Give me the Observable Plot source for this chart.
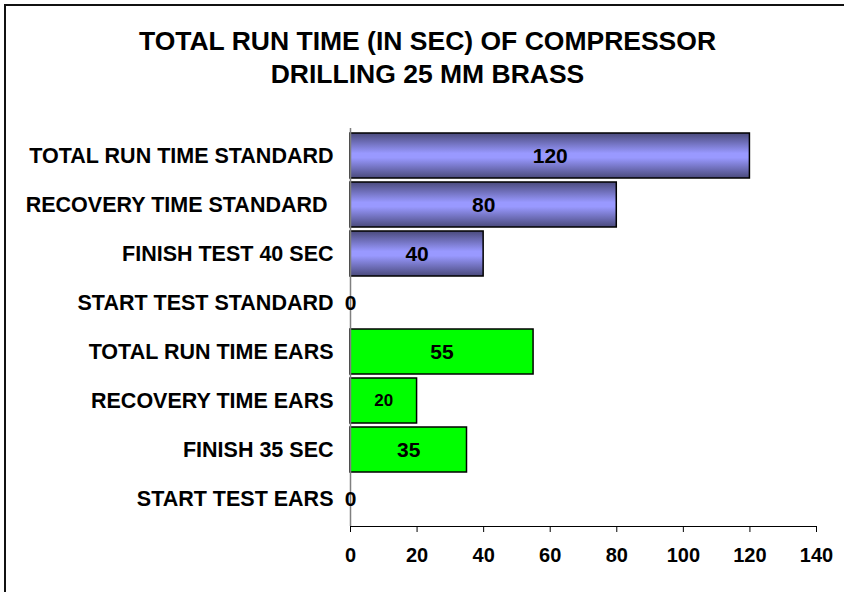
<!DOCTYPE html>
<html>
<head>
<meta charset="utf-8">
<script src="https://cdn.jsdelivr.net/npm/d3@7"></script>
<script src="https://cdn.jsdelivr.net/npm/@observablehq/plot@0.6"></script>
<style>
  html, body { margin: 0; padding: 0; background: #fff; overflow: hidden; }
  #wrap { position: relative; width: 844px; height: 592px; overflow: hidden; font-family: "Liberation Sans", Arial, sans-serif; }
  #frame { position: absolute; left: 4px; top: 4px; width: 1000px; height: 1000px; border-left: 2px solid #111; border-top: 2px solid #111; box-sizing: border-box; pointer-events: none; }
  #title { position: absolute; left: 0; width: 855px; top: 25px; text-align: center; font-weight: bold; font-size: 26.5px; line-height: 33px; color: #000; }
  #chart { position: absolute; left: 0; top: 0; }
</style>
</head>
<body>
<div id="wrap">
  <div id="chart"></div>
  <div id="title">TOTAL RUN TIME (IN SEC) OF COMPRESSOR<br>DRILLING 25 MM BRASS</div>
  <div id="frame"></div>
</div>
<script>
const categories = [
  "TOTAL RUN TIME STANDARD",
  "RECOVERY TIME STANDARD\u00a0",
  "FINISH TEST 40 SEC",
  "START TEST STANDARD",
  "TOTAL RUN TIME EARS",
  "RECOVERY TIME EARS",
  "FINISH 35 SEC",
  "START TEST EARS"
];
const values = [120, 80, 40, 0, 55, 20, 35, 0];
const groups = ["standard", "standard", "standard", "standard", "ears", "ears", "ears", "ears"];
const xTicks = [0, 20, 40, 60, 80, 100, 120, 140];

const data = categories.map((c, i) => ({ cat: c, value: values[i], group: groups[i] }));
const std = data.filter(d => d.group === "standard");
const ears = data.filter(d => d.group === "ears");

const font = "'Liberation Sans', Arial, sans-serif";

const svg = Plot.plot({
  width: 844,
  height: 592,
  marginLeft: 350,
  marginRight: 28,
  marginTop: 128,
  marginBottom: 66,
  style: { fontFamily: font, fontWeight: "bold", color: "#000", background: "transparent" },
  x: { domain: [0, 140], label: null },
  y: { domain: categories, padding: 0.08, label: null },
  marks: [
    Plot.barX(std.filter(d => d.value > 0), { x: "value", y: "cat", fill: "#9999ff", stroke: "#000", strokeWidth: 1.5, className: "blue-bars" }),
    Plot.barX(ears.filter(d => d.value > 0), { x: "value", y: "cat", fill: "#00ff00", stroke: "#000", strokeWidth: 1.5 }),
    Plot.ruleX([0], { stroke: "#808080", strokeWidth: 1.5 }),
    Plot.frame({ anchor: "bottom", stroke: "#000", strokeWidth: 1 }),
    Plot.axisX({ ticks: xTicks, tickSize: 6, tickPadding: 15, fontSize: 20, fontWeight: "bold", fill: "#000", stroke: "#000", label: null }),
    Plot.axisY({ tickSize: 0, tickPadding: 17, fontSize: 21.5, fontWeight: "bold", fill: "#000", label: null }),
    Plot.text(data, {
      x: d => d.value / 2, y: "cat", text: d => String(d.value),
      fontSize: d => (d.value > 0 && d.value < 30 ? 17 : 21),
      fontWeight: "bold", fill: "#000", textAnchor: "middle"
    })
  ]
});

// Vertical gradient for the blue bars
const ns = "http://www.w3.org/2000/svg";
const defs = document.createElementNS(ns, "defs");
const grad = document.createElementNS(ns, "linearGradient");
grad.setAttribute("id", "blueGrad");
grad.setAttribute("x1", "0"); grad.setAttribute("y1", "0");
grad.setAttribute("x2", "0"); grad.setAttribute("y2", "1");
[["0%", "#4a4a7c"], ["45%", "#9999ff"], ["55%", "#9999ff"], ["100%", "#4a4a7c"]].forEach(([o, c]) => {
  const s = document.createElementNS(ns, "stop");
  s.setAttribute("offset", o); s.setAttribute("stop-color", c);
  grad.appendChild(s);
});
defs.appendChild(grad);
svg.insertBefore(defs, svg.firstChild);
const blue = svg.querySelector("g.blue-bars");
if (blue) blue.setAttribute("fill", "url(#blueGrad)");

document.getElementById("chart").appendChild(svg);
</script>
</body>
</html>
